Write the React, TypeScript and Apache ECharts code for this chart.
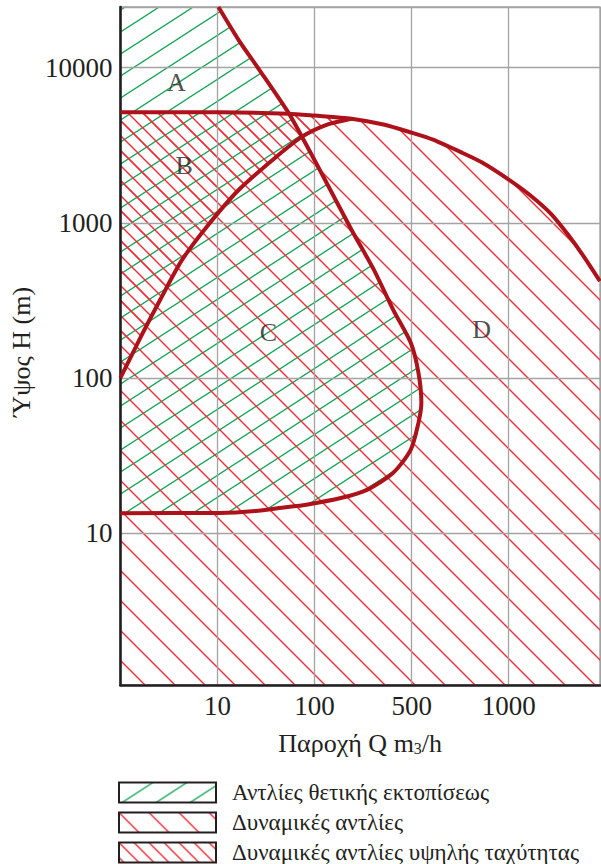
import React, { useEffect, useRef } from 'react';
import * as echarts from 'echarts';

// ---- axes ----
const xTickLabels = ['', '10', '100', '500', '1000'];
const yTickValues = [10, 100, 1000, 10000];
const X_MAX = 4.94;
const Y_MIN = 1.05;
const Y_MAX = 24600;

// ---- curves [x position (grid units), H (m)] ----
// boundary of positive-displacement pumps
const pdCurve = [
  [1.01, 24600], [1.22, 15000], [1.42, 9900], [1.73, 5130], [1.87, 3590],
  [2.08, 2040], [2.38, 903], [2.61, 499], [2.81, 275], [2.99, 169],
  [3.07, 108], [3.1, 69.2], [3.07, 51.4], [2.99, 34.4], [2.81, 24.5],
  [2.54, 19.0], [2.28, 16.9], [1.9, 15.2], [1.7, 14.7], [1.39, 13.9],
  [1.02, 13.5], [0, 13.45],
];
// upper limit of dynamic (centrifugal) pumps
const dynCurve = [
  [0, 5150], [1.02, 5150], [1.73, 5050], [2.0, 4910], [2.38, 4690],
  [2.71, 4300], [3.0, 3810], [3.22, 3435], [3.52, 2830], [3.73, 2440],
  [4.0, 1900], [4.23, 1490], [4.44, 1135], [4.61, 840], [4.77, 610], [4.94, 420],
];
// limit of high-speed dynamic pumps
const hsCurve = [
  [0, 100], [0.21, 184], [0.41, 319], [0.63, 570], [0.89, 944],
  [1.22, 1633], [1.57, 2550], [1.87, 3590], [2.13, 4300], [2.38, 4690],
];

// region labels
const regionLabels = [
  { name: 'A', value: [0.577, 8050] },
  { name: 'B', value: [0.657, 2335] },
  { name: 'C', value: [1.524, 195] },
  { name: 'D', value: [3.72, 205] },
];

const N_PD = 'Αντλίες θετικής εκτοπίσεως';
const N_DYN = 'Δυναμικές αντλίες';
const N_HS = 'Δυναμικές αντλίες υψηλής ταχύτητας';

const FONT = "'Liberation Serif', 'DejaVu Serif', 'Times New Roman', serif";
const TEXT = '#231f20';
const GRID = '#a3a3a3';
const RED = '#ef2d36';
const GREEN = '#14a556';
const CURVE = '#ad1119';

function hatch(w: number, h: number, dir: 'fwd' | 'back', color: string, lw: number) {
  const c = document.createElement('canvas');
  c.width = w;
  c.height = h;
  const ctx = c.getContext('2d')!;
  ctx.strokeStyle = color;
  ctx.lineWidth = lw;
  ctx.beginPath();
  for (const dx of [-w, 0, w]) {
    if (dir === 'back') {
      ctx.moveTo(dx - w, -h);
      ctx.lineTo(dx + 2 * w, 2 * h);
    } else {
      ctx.moveTo(dx - w, 2 * h);
      ctx.lineTo(dx + 2 * w, -h);
    }
  }
  ctx.stroke();
  return { image: c, repeat: 'repeat', imageWidth: w, imageHeight: h } as any;
}

function regionSeries(name: string, pts: number[][], fill: any, z: number) {
  return {
    type: 'custom',
    name,
    z,
    silent: true,
    coordinateSystem: 'cartesian2d',
    data: pts,
    encode: { x: 0, y: 1 },
    renderItem: (params: any, api: any) => {
      if (params.dataIndex !== 0) return null;
      const points = pts.map((p) => api.coord(p));
      return { type: 'polygon', shape: { points }, style: { fill, stroke: null } };
    },
  };
}

function curveSeries(data: number[][]) {
  return {
    type: 'line',
    data,
    symbol: 'none',
    smooth: 0.25,
    silent: true,
    z: 4,
    lineStyle: { color: CURVE, width: 4 },
  };
}

export default function App() {
  const ref = useRef<HTMLDivElement>(null);
  useEffect(() => {
    const chart = echarts.init(ref.current!, null, { renderer: 'svg' });

    const greenPat = hatch(34, 22, 'fwd', GREEN, 1.4);
    const redPat = hatch(30, 30, 'back', RED, 1.4);
    const redDensePat = hatch(15, 15, 'back', RED, 1.4);

    const greenRegion = [[0, Y_MAX], ...pdCurve];
    const dynRegion = [...dynCurve, [X_MAX, Y_MIN], [0, Y_MIN]];
    const junction = hsCurve[hsCurve.length - 1];
    const j = dynCurve.findIndex((p) => p[0] === junction[0]);
    const hsRegion = [...dynCurve.slice(0, j + 1), ...hsCurve.slice(0, -1).reverse()];

    const option: any = {
      animation: false,
      backgroundColor: '#ffffff',
      textStyle: { fontFamily: FONT },
      grid: {
        left: 113, top: 7, right: 1, bottom: 179,
        show: true, borderColor: GRID, borderWidth: 1.3, backgroundColor: 'transparent',
      },
      xAxis: {
        type: 'value', min: 0, max: X_MAX, interval: 1, z: 3,
        axisLine: { show: true, onZero: false, lineStyle: { color: TEXT, width: 2.6 } },
        axisTick: { show: false },
        splitLine: { show: true, lineStyle: { color: GRID, width: 1.3 } },
        axisLabel: {
          margin: 7, fontSize: 27, color: TEXT, fontFamily: FONT, showMaxLabel: false,
          formatter: (v: number) => xTickLabels[Math.round(v)] ?? '',
        },
        name: '{a|Παροχή Q m}{s|3}{a|/h}',
        nameLocation: 'middle', nameGap: 45,
        nameTextStyle: {
          rich: {
            a: { fontSize: 26, color: TEXT, fontFamily: FONT, lineHeight: 26, verticalAlign: 'bottom' },
            s: { fontSize: 16, color: TEXT, fontFamily: FONT, lineHeight: 10, verticalAlign: 'bottom' },
          },
        },
      },
      yAxis: {
        type: 'log', logBase: 10, min: Y_MIN, max: Y_MAX, z: 3,
        axisLine: { show: true, onZero: false, lineStyle: { color: TEXT, width: 2.6 } },
        axisTick: { show: false },
        splitLine: { show: true, lineStyle: { color: GRID, width: 1.3 } },
        axisLabel: {
          margin: 8, fontSize: 27, color: TEXT, fontFamily: FONT,
          showMinLabel: false, showMaxLabel: false,
          formatter: (v: number) => {
            const r = Math.round(v);
            return yTickValues.includes(r) ? String(r) : '';
          },
        },
        name: 'Ύψος H (m)', nameLocation: 'middle', nameGap: 72,
        nameTextStyle: { fontSize: 26, color: TEXT, fontFamily: FONT, padding: [0, 12, 0, 0] },
      },
      legend: {
        orient: 'vertical', left: 118, top: 781, itemWidth: 97, itemHeight: 20, itemGap: 7,
        padding: 0, height: 90,
        icon: 'rect', selectedMode: false,
        textStyle: { fontSize: 23, color: TEXT, fontFamily: FONT, lineHeight: 20, padding: [0, 0, 0, 11] },
        data: [
          { name: N_PD, itemStyle: { color: greenPat, borderColor: TEXT, borderWidth: 2 } },
          { name: N_DYN, itemStyle: { color: redPat, borderColor: TEXT, borderWidth: 2 } },
          { name: N_HS, itemStyle: { color: redDensePat, borderColor: TEXT, borderWidth: 2 } },
        ],
      },
      series: [
        regionSeries(N_PD, greenRegion, greenPat, 2),
        regionSeries(N_DYN, dynRegion, redPat, 2),
        regionSeries(N_HS, hsRegion, redDensePat, 2),
        curveSeries(pdCurve),
        curveSeries(dynCurve),
        curveSeries(hsCurve),
        {
          type: 'scatter', data: regionLabels, symbolSize: 0, silent: true, z: 5,
          label: { show: true, position: 'inside', formatter: '{b}', fontSize: 26, color: TEXT, fontFamily: FONT },
        },
      ],
    };
    chart.setOption(option);
    return () => chart.dispose();
  }, []);
  return (
    <div
      ref={ref}
      style={{ position: 'fixed', left: 0, top: 0, width: 601, height: 864, background: '#fff' }}
    />
  );
}
